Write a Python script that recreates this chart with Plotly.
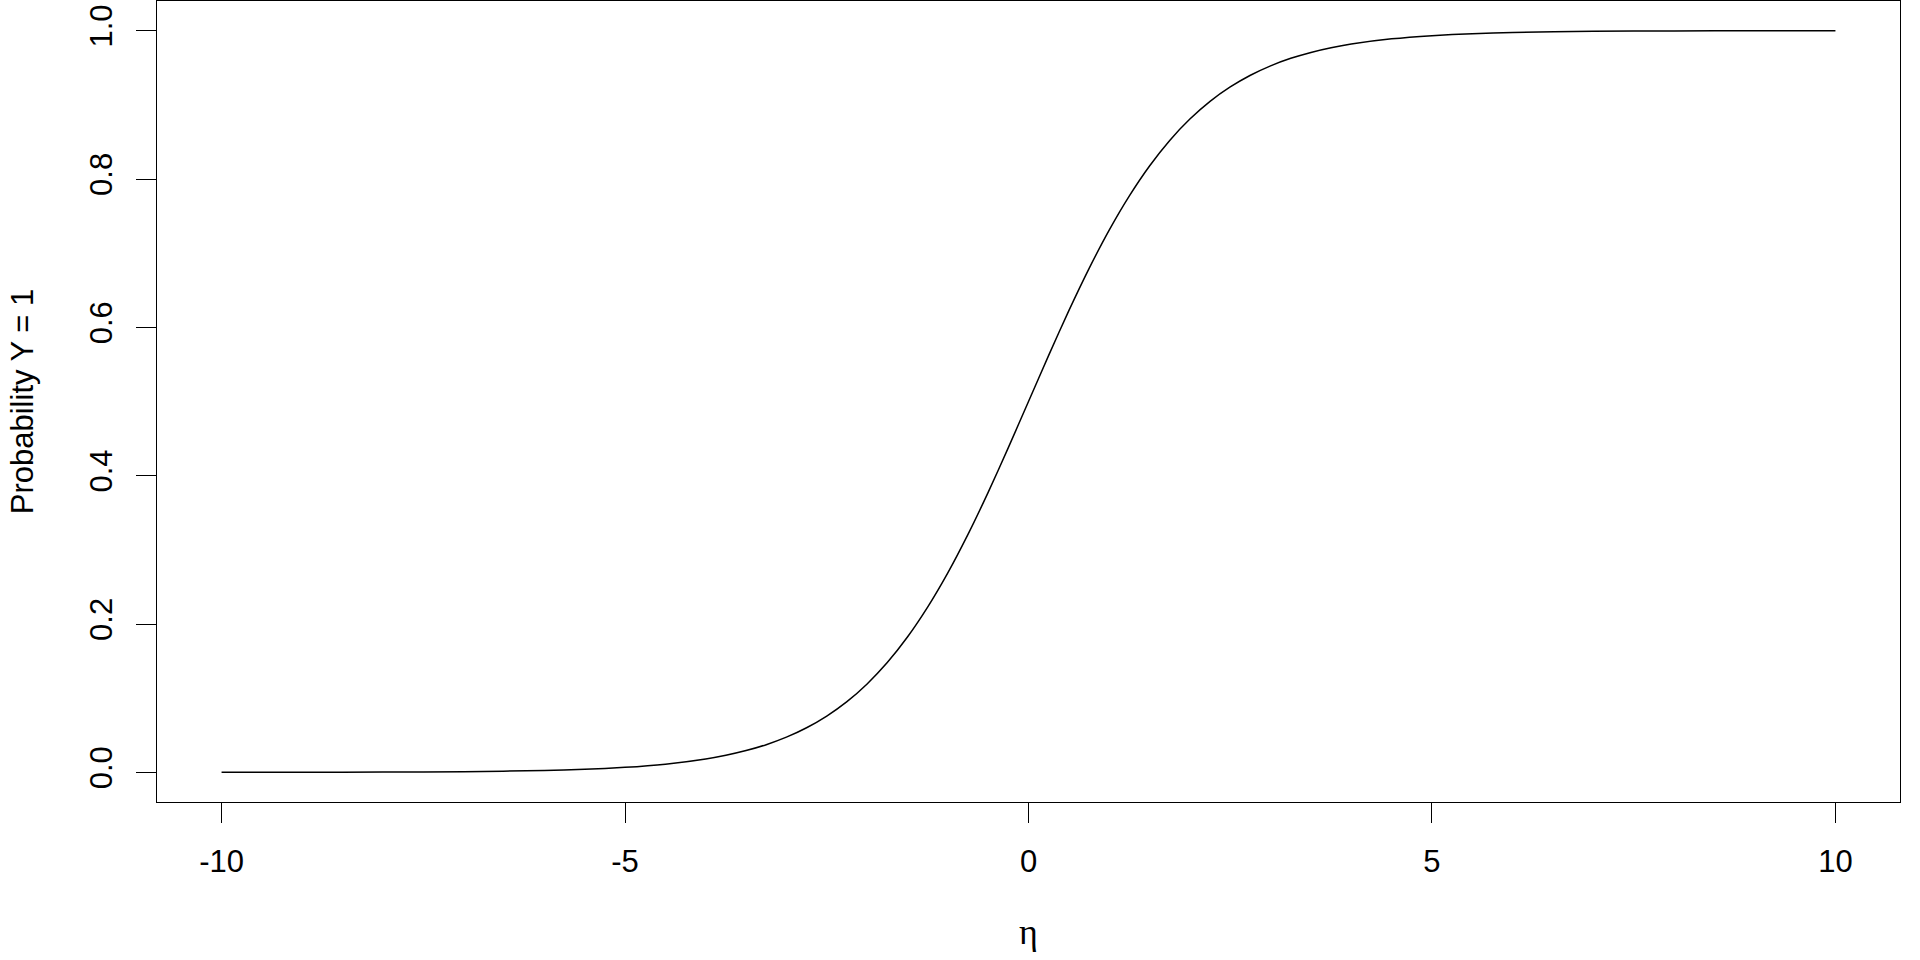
import plotly.graph_objects as go

# eta values and probability
eta = [-10, -9, -8, -7, -6, -5.5, -5, -4.5, -4, -3.75, -3.5, -3.25, -3, -2.75, -2.5,
       -2.25, -2, -1.75, -1.5, -1.25, -1, -0.75, -0.5, -0.25, 0, 0.25, 0.5, 0.75, 1,
       1.25, 1.5, 1.75, 2, 2.25, 2.5, 2.75, 3, 3.25, 3.5, 3.75, 4, 4.5, 5, 5.5, 6,
       7, 8, 9, 10]
prob = [0.0000, 0.0001, 0.0003, 0.0009, 0.0025, 0.0041, 0.0067, 0.0110, 0.0180,
        0.0230, 0.0293, 0.0373, 0.0474, 0.0601, 0.0759, 0.0953, 0.1192, 0.1480,
        0.1824, 0.2227, 0.2689, 0.3208, 0.3775, 0.4378, 0.5000, 0.5622, 0.6225,
        0.6792, 0.7311, 0.7773, 0.8176, 0.8520, 0.8808, 0.9047, 0.9241, 0.9399,
        0.9526, 0.9627, 0.9707, 0.9770, 0.9820, 0.9890, 0.9933, 0.9959, 0.9975,
        0.9991, 0.9997, 0.9999, 1.0000]

x_ticks = [-10, -5, 0, 5, 10]
x_labels = ["-10", "-5", "0", "5", "10"]
y_ticks = [0.0, 0.2, 0.4, 0.6, 0.8, 1.0]
y_labels = ["0.0", "0.2", "0.4", "0.6", "0.8", "1.0"]

FONT = "Liberation Sans, Arial, sans-serif"

fig = go.Figure()
fig.add_trace(go.Scatter(
    x=eta, y=prob, mode="lines",
    line=dict(color="black", width=1.5, shape="spline", smoothing=0.6),
    showlegend=False, hoverinfo="skip",
))

fig.update_layout(
    width=1920, height=960,
    paper_bgcolor="white", plot_bgcolor="white",
    margin=dict(l=157, r=20, t=1, b=158),
    font=dict(family=FONT, size=31, color="black"),
)

fig.update_xaxes(
    range=[-10.8, 10.8], automargin=False,
    tickvals=x_ticks, ticktext=x_labels,
    ticks="outside", ticklen=20, tickwidth=1, tickcolor="black",
    showline=True, linecolor="black", linewidth=1, mirror=True,
    showgrid=False, zeroline=False,
    tickfont=dict(family=FONT, size=31),
    ticklabelstandoff=12,
    title=dict(text="η", font=dict(family="Liberation Serif, DejaVu Serif, serif", size=36),
               standoff=40),
)
fig.update_yaxes(
    range=[-0.04, 1.04], automargin=False,
    tickvals=y_ticks, ticktext=y_labels,
    ticks="outside", ticklen=20, tickwidth=1, tickcolor="black",
    showline=True, linecolor="black", linewidth=1, mirror=True,
    showgrid=False, zeroline=False,
    tickangle=-90,
    tickfont=dict(family=FONT, size=31),
    ticklabelstandoff=12,
    title=dict(text="Probability Y = 1", font=dict(family=FONT, size=31), standoff=40),
)

# page body margin would push the figure 8px off the corner
fig.write_html("out.html", config={"displayModeBar": False},
               post_script="document.body.style.margin='0';")
